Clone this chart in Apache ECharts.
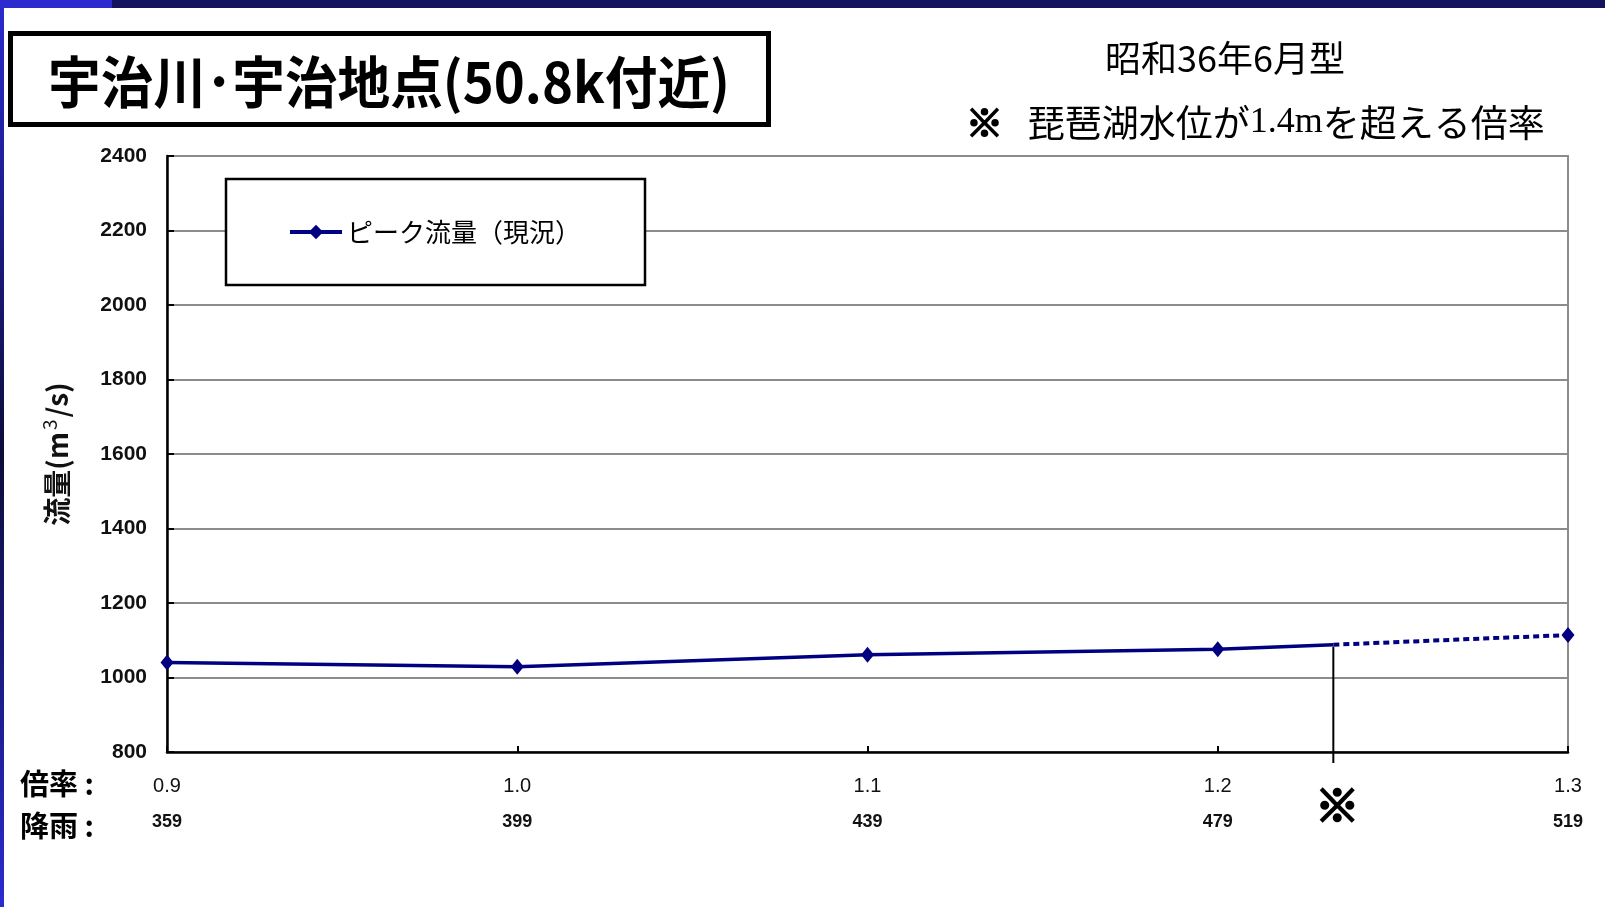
<!DOCTYPE html>
<html lang="ja">
<head>
<meta charset="utf-8">
<title>宇治川・宇治地点(50.8k付近)</title>
<script src="https://cdn.jsdelivr.net/npm/echarts@6/dist/echarts.min.js"></script>
<style>
  html, body { margin: 0; padding: 0; background: #fff; }
  #chart { width: 1605px; height: 907px; }
</style>
</head>
<body>
<div id="chart"></div>
<script>
// 倍率 (rainfall multiplier) and matching 降雨 totals
const ratios = [0.9, 1.0, 1.1, 1.2, 1.3];
const rainfall = [359, 399, 439, 479, 519];
// ピーク流量(現況) in m3/s
const peakFlow = [1040, 1029, 1061, 1076, 1114];
// multiplier at which 琵琶湖 level exceeds 1.4m, and the flow there
const lakeRatio = 1.233;
const lakeFlow = 1088;
// y axis range
const yMin = 800, yMax = 2400, yStep = 200;

const NAVY = '#000080';
const JP = '"Noto Sans CJK JP", "Noto Sans", sans-serif';
const NUM = '"Liberation Sans", "DejaVu Sans", sans-serif';
const LEGEND_NAME = 'ピーク流量（現況）';

// solid part: up to the lake-level multiplier; dashed part: beyond it
const solidData = ratios.filter(r => r <= lakeRatio).map((r, i) => [r, peakFlow[i]]);
solidData.push({ value: [lakeRatio, lakeFlow], symbol: 'none' });
const dashedData = [{ value: [lakeRatio, lakeFlow], symbol: 'none' }];
ratios.forEach((r, i) => { if (r > lakeRatio) dashedData.push([r, peakFlow[i]]); });

const chart = echarts.init(document.getElementById('chart'), null, { renderer: 'canvas' });

// static decorations: frame stripes, boxed title, headings, row captions
const graphics = [
  { type: 'rect', left: 0, top: 0, shape: { width: 1605, height: 8 }, style: { fill: '#14145e' }, z: 10 },
  { type: 'rect', left: 0, top: 0, shape: { width: 112, height: 8 }, style: { fill: '#2b2bd0' }, z: 11 },
  {
    type: 'rect', left: 0, top: 0, shape: { width: 4, height: 907 }, z: 11,
    style: {
      fill: new echarts.graphic.LinearGradient(0, 0, 0, 1, [
        { offset: 0, color: '#2b2bd0' },
        { offset: 0.5, color: '#0c0c3a' },
        { offset: 1, color: '#2b2bd0' }
      ])
    }
  },
  {
    type: 'rect', left: 8, top: 31,
    shape: { width: 758, height: 91 },
    style: { fill: '#fff', stroke: '#000', lineWidth: 5 }
  },
  {
    type: 'text', x: 48, y: 82, scaleX: 0.94,
    style: {
      text: '宇治川･宇治地点(50.8k付近)',
      fontFamily: JP, fontSize: 56, fontWeight: 'bold', fill: '#000',
      verticalAlign: 'middle', align: 'left'
    }
  },
  {
    type: 'text', x: 1225, y: 58,
    style: {
      text: '昭和36年6月型', fontFamily: JP, fontSize: 36, fill: '#000',
      align: 'center', verticalAlign: 'middle'
    }
  },
  {
    type: 'text', x: 966, y: 123,
    style: {
      text: '{k|※}{a|   琵琶湖水位が}{b|1.4m}{a|を超える倍率}',
      verticalAlign: 'middle',
      rich: {
        k: { fontFamily: JP, fontSize: 37, fill: '#000', stroke: '#000', lineWidth: 2 },
        a: { fontFamily: JP, fontSize: 37, fill: '#000' },
        b: { fontFamily: '"Liberation Serif", "DejaVu Serif", serif', fontSize: 36, fill: '#000' }
      }
    }
  },
  {
    type: 'text', x: 20, y: 784,
    style: { text: '倍率 :', fontFamily: JP, fontSize: 29, fontWeight: 'bold', fill: '#000', verticalAlign: 'middle' }
  },
  {
    type: 'text', x: 20, y: 826,
    style: { text: '降雨 :', fontFamily: JP, fontSize: 29, fontWeight: 'bold', fill: '#000', verticalAlign: 'middle' }
  }
];

chart.setOption({
  backgroundColor: '#fff',
  animation: false,
  grid: {
    left: 167, right: 37, top: 156, bottom: 155,
    show: true, borderColor: '#8c8c8c', borderWidth: 2, backgroundColor: 'transparent'
  },
  legend: {
    data: [LEGEND_NAME],
    left: 226, top: 179,
    padding: [40, 64, 40, 62],
    backgroundColor: '#fff',
    borderColor: '#000', borderWidth: 2.5,
    itemWidth: 52, itemHeight: 18,
    itemGap: 6,
    lineStyle: { width: 4 },
    textStyle: { fontFamily: JP, fontSize: 26, color: '#000' }
  },
  xAxis: {
    type: 'value',
    min: 0.9, max: 1.3, interval: 0.1,
    axisLine: { show: true, onZero: false, lineStyle: { color: '#000', width: 2.5 } },
    axisTick: { show: true, inside: true, length: 6, lineStyle: { color: '#000', width: 2 } },
    splitLine: { show: false },
    axisLabel: {
      margin: 16,
      formatter: v => {
        const i = Math.round((v - 0.9) / 0.1);
        return '{r|' + v.toFixed(1) + '}\n{p|' + rainfall[i] + '}';
      },
      rich: {
        r: { fontFamily: NUM, fontSize: 20, color: '#111', lineHeight: 36 },
        p: { fontFamily: NUM, fontSize: 18, color: '#111', fontWeight: 'bold', lineHeight: 36 }
      }
    }
  },
  yAxis: {
    type: 'value',
    min: yMin, max: yMax, interval: yStep,
    name: '{a|流量(m}{s|3}{a|/s)}',
    nameLocation: 'middle',
    nameRotate: 90,
    nameGap: 92,
    nameTextStyle: {
      rich: {
        a: { fontFamily: JP, fontSize: 28, color: '#111', fontWeight: 'bold' },
        s: { fontFamily: JP, fontSize: 19, color: '#111', padding: [0, 2, 16, 2] }
      }
    },
    axisLine: { show: true, lineStyle: { color: '#000', width: 2.5 } },
    axisTick: { show: true, inside: true, length: 7, lineStyle: { color: '#000', width: 2 } },
    splitLine: { show: true, lineStyle: { color: '#8c8c8c', width: 2 } },
    axisLabel: {
      margin: 20, fontFamily: NUM, fontSize: 21, color: '#111', fontWeight: 'bold',
      formatter: v => String(v)
    }
  },
  series: [
    {
      name: LEGEND_NAME,
      type: 'line',
      data: solidData,
      symbol: 'diamond',
      symbolSize: [13, 16],
      itemStyle: { color: NAVY },
      lineStyle: { color: NAVY, width: 3.5 },
      z: 3
    },
    {
      name: '琵琶湖水位1.4m超過',
      type: 'line',
      data: dashedData,
      symbol: 'diamond',
      symbolSize: [13, 16],
      itemStyle: { color: NAVY },
      lineStyle: { color: NAVY, width: 4, type: [6, 4] },
      z: 3
    }
  ],
  graphic: graphics
});

// marker for the lake-level multiplier: a drop line from the curve through the axis, with ※ below
const lakePt = chart.convertToPixel({ gridIndex: 0 }, [lakeRatio, lakeFlow]);
const lakeBase = chart.convertToPixel({ gridIndex: 0 }, [lakeRatio, yMin]);
graphics.push(
  {
    type: 'line', z: 2,
    shape: { x1: lakePt[0], y1: lakePt[1] + 2, x2: lakePt[0], y2: lakeBase[1] + 11 },
    style: { stroke: '#000', lineWidth: 2 }
  },
  {
    type: 'text', x: lakePt[0] + 4, y: lakeBase[1] + 53,
    style: {
      text: '※', fontFamily: JP, fontSize: 44, fontWeight: 'bold', fill: '#000',
      stroke: '#000', lineWidth: 2.5,
      align: 'center', verticalAlign: 'middle'
    }
  }
);
chart.setOption({ graphic: graphics });
</script>
</body>
</html>
